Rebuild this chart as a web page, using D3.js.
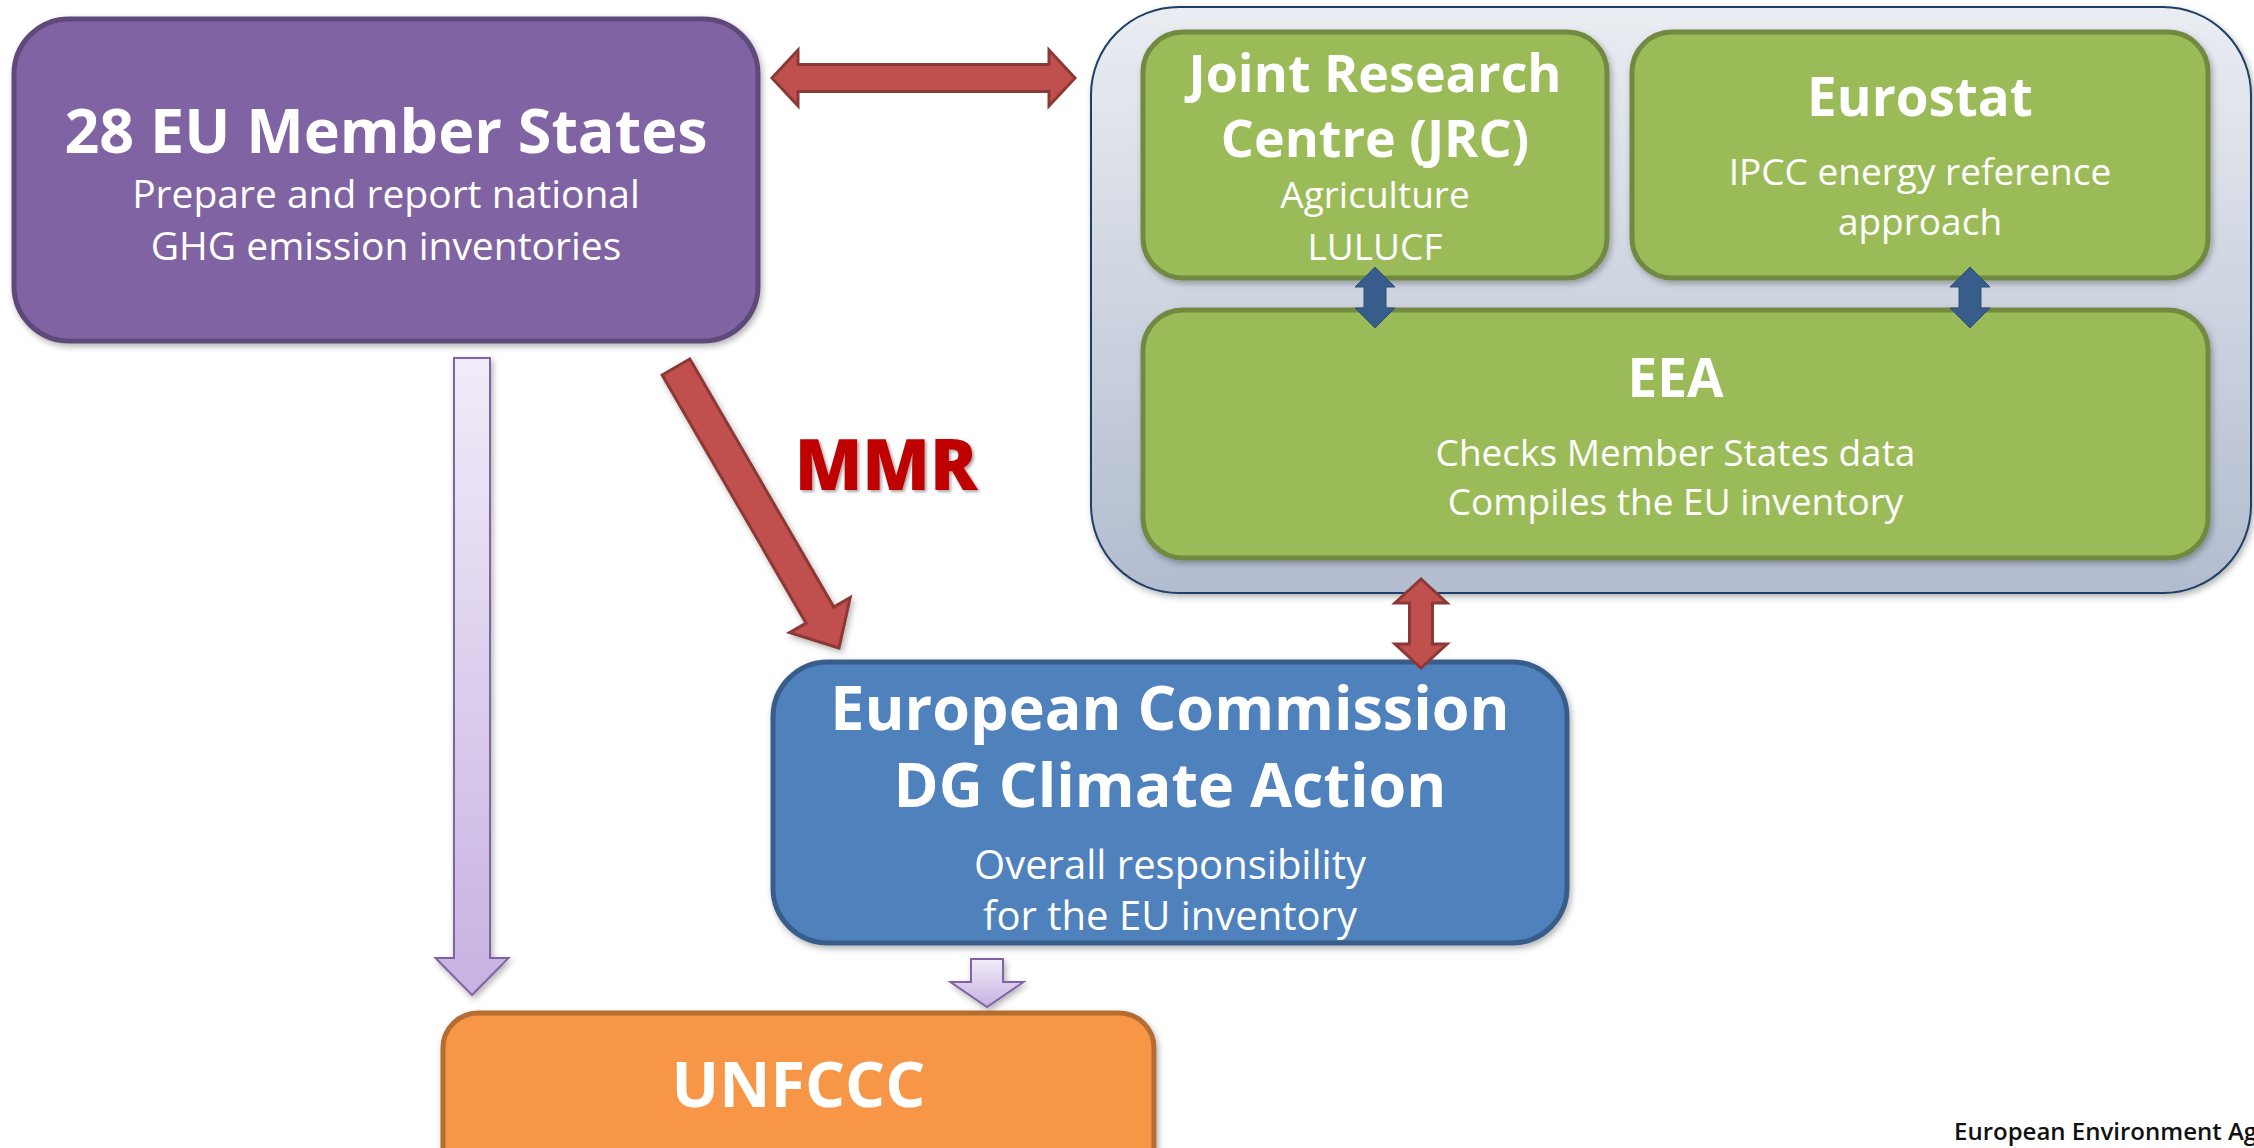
<!DOCTYPE html>
<html>
<head>
<meta charset="utf-8">
<script src="https://cdn.jsdelivr.net/npm/d3@7"></script>
<style>
  html, body { margin: 0; padding: 0; background: #fff; }
  svg { display: block; }
  text { font-family: "Open Sans", "Noto Sans", sans-serif; fill: #fff; }
</style>
</head>
<body>
<svg width="2254" height="1148"></svg>
<script>
// box names, in drawing order
var boxIds = ["states", "jrc", "eurostat", "eea", "ec", "unfccc"];

// bold title lines of each box
var boxTitles = {
  states: ["28 EU Member States"],
  jrc: ["Joint Research", "Centre (JRC)"],
  eurostat: ["Eurostat"],
  eea: ["EEA"],
  ec: ["European Commission", "DG Climate Action"],
  unfccc: ["UNFCCC"]
};

// regular lines under the title
var boxLines = {
  states: ["Prepare and report national", "GHG emission inventories"],
  jrc: ["Agriculture", "LULUCF"],
  eurostat: ["IPCC energy reference", "approach"],
  eea: ["Checks Member States data", "Compiles the EU inventory"],
  ec: ["Overall responsibility", "for the EU inventory"],
  unfccc: []
};

// links between boxes: [from, to, kind]
var links = [
  ["states", "container", "red2"],
  ["states", "ec", "mmr"],
  ["container", "ec", "red2"],
  ["jrc", "eea", "blue2"],
  ["eurostat", "eea", "blue2"],
  ["states", "unfccc", "purple"],
  ["ec", "unfccc", "purple"]
];

var linkLabel = "MMR";
var footer = "European Environment Agency";

// ---- layout (pixels) ----
var geo = {
  container: {x: 1091, y: 7, w: 1160, h: 586, r: 88},
  states:   {x: 14,   y: 19,   w: 744,  h: 322, r: 55, fill: "#8064a2", stroke: "#5f497a", ts: 61, ls: 39, tb: [153], lb: [208, 260]},
  jrc:      {x: 1143, y: 32,   w: 464,  h: 246, r: 40, fill: "#9bbb59", stroke: "#71893f", ts: 52, ls: 37, tb: [92, 157], lb: [208, 260]},
  eurostat: {x: 1632, y: 32,   w: 576,  h: 246, r: 40, fill: "#9bbb59", stroke: "#71893f", ts: 53, ls: 37, tb: [116], lb: [185, 235]},
  eea:      {x: 1143, y: 310,  w: 1065, h: 248, r: 40, fill: "#9bbb59", stroke: "#71893f", ts: 53, ls: 37, tb: [397], lb: [466, 515]},
  ec:       {x: 773,  y: 662,  w: 794,  h: 281, r: 55, fill: "#4f81bd", stroke: "#385d8a", ts: 61, ls: 40, tb: [730, 807], lb: [879, 930]},
  unfccc:   {x: 443,  y: 1013, w: 711,  h: 170, r: 35, fill: "#f79646", stroke: "#b66d31", ts: 63, ls: 40, tb: [1107], lb: []}
};

// arrow geometry per link: start, end, shaft width, head width, head length
var arrowGeo = [
  {p: [772, 78, 1075, 78],    sw: 27, hw: 56, hl: 26},
  {p: [676, 367, 839, 648],   sw: 32, hw: 70, hl: 38},
  {p: [1421, 579, 1421, 668], sw: 23, hw: 52, hl: 24},
  {p: [1375, 267, 1375, 328], sw: 22, hw: 40, hl: 20},
  {p: [1970, 267, 1970, 328], sw: 22, hw: 40, hl: 20},
  {p: [472, 358, 472, 995],   sw: 36, hw: 73, hl: 37},
  {p: [987, 959, 987, 1007],  sw: 32, hw: 73, hl: 25}
];

var arrowStyle = {
  red2:   {fill: "#c0504d", stroke: "#8c3836", sw: 3, both: true},
  mmr:    {fill: "#c0504d", stroke: "#8c3836", sw: 3, both: false},
  blue2:  {fill: "#385d8a", stroke: "#2f5079", sw: 1, both: true},
  purple: {fill: "url(#gPurple)", stroke: "#8064a2", sw: 2, both: false}
};

var svg = d3.select("svg");
var defs = svg.append("defs");

function shadow(id, dx, dy, sd, op) {
  defs.append("filter").attr("id", id)
      .attr("x", "-20%").attr("y", "-20%").attr("width", "140%").attr("height", "140%")
    .append("feDropShadow")
      .attr("dx", dx).attr("dy", dy).attr("stdDeviation", sd)
      .attr("flood-color", "#000").attr("flood-opacity", op);
}
shadow("sh", 2, 3, 3, 0.3);
shadow("shText", 2, 2, 1.5, 0.35);

var gc = defs.append("linearGradient").attr("id", "gCont").attr("x1", 0).attr("y1", 0).attr("x2", 0).attr("y2", 1);
gc.append("stop").attr("offset", "0%").attr("stop-color", "#eaedf2");
gc.append("stop").attr("offset", "100%").attr("stop-color", "#b2bccf");

var gp = defs.append("linearGradient").attr("id", "gPurple").attr("x1", 0).attr("y1", 0).attr("x2", 0).attr("y2", 1);
gp.append("stop").attr("offset", "0%").attr("stop-color", "#f1ecf8");
gp.append("stop").attr("offset", "100%").attr("stop-color", "#c7b2e2");

// grey container around JRC / Eurostat / EEA
var c = geo.container;
svg.append("rect")
    .attr("x", c.x).attr("y", c.y).attr("width", c.w).attr("height", c.h)
    .attr("rx", c.r).attr("ry", c.r)
    .attr("fill", "url(#gCont)")
    .attr("stroke", "#1f3f66").attr("stroke-width", 2)
    .attr("filter", "url(#sh)");

// arrow outline along a direction, one or two heads
function arrowPath(a) {
  var x1 = a.p[0], y1 = a.p[1], x2 = a.p[2], y2 = a.p[3];
  var len = Math.hypot(x2 - x1, y2 - y1);
  var ux = (x2 - x1) / len, uy = (y2 - y1) / len;
  var nx = -uy, ny = ux;
  var s = a.sw / 2, h = a.hw / 2, hl = a.hl;
  var pts = [];
  function pt(t, o) { pts.push([x1 + ux * t + nx * o, y1 + uy * t + ny * o]); }
  if (a.both) {
    pt(0, 0); pt(hl, h); pt(hl, s);
  } else {
    pt(0, s);
  }
  pt(len - hl, s); pt(len - hl, h); pt(len, 0); pt(len - hl, -h); pt(len - hl, -s);
  if (a.both) {
    pt(hl, -s); pt(hl, -h);
  } else {
    pt(0, -s);
  }
  return d3.line()(pts) + "Z";
}

var arrowsData = links.map(function(l, i) {
  var st = arrowStyle[l[2]];
  return Object.assign({}, arrowGeo[i], {both: st.both, style: st, kind: l[2]});
});

function drawArrows(sel) {
  svg.selectAll(null)
    .data(sel)
    .enter().append("path")
      .attr("class", "arrow")
      .attr("d", arrowPath)
      .attr("fill", function(d) { return d.style.fill; })
      .attr("stroke", function(d) { return d.style.stroke; })
      .attr("stroke-width", function(d) { return d.style.sw; })
      .attr("stroke-linejoin", "miter")
      .attr("filter", function(d) { return d.kind === "purple" || d.kind === "mmr" ? "url(#sh)" : null; });
}

// arrows that sit under the boxes
drawArrows(arrowsData.filter(function(d) { return d.kind === "purple"; }));

var box = svg.selectAll("g.box")
  .data(boxIds)
  .enter().append("g")
    .attr("class", "box");

box.append("rect")
    .attr("x", function(d) { return geo[d].x; })
    .attr("y", function(d) { return geo[d].y; })
    .attr("width", function(d) { return geo[d].w; })
    .attr("height", function(d) { return geo[d].h; })
    .attr("rx", function(d) { return geo[d].r; })
    .attr("ry", function(d) { return geo[d].r; })
    .attr("fill", function(d) { return geo[d].fill; })
    .attr("stroke", function(d) { return geo[d].stroke; })
    .attr("stroke-width", 5)
    .attr("filter", "url(#sh)");

box.each(function(id) {
  var g = d3.select(this), b = geo[id], cx = b.x + b.w / 2;
  boxTitles[id].forEach(function(t, i) {
    g.append("text")
        .attr("x", cx).attr("y", b.tb[i])
        .attr("text-anchor", "middle")
        .style("font-size", b.ts + "px")
        .style("font-weight", 700)
        .text(t);
  });
  boxLines[id].forEach(function(t, i) {
    g.append("text")
        .attr("x", cx).attr("y", b.lb[i])
        .attr("text-anchor", "middle")
        .style("font-size", b.ls + "px")
        .style("font-weight", 400)
        .text(t);
  });
});

// remaining arrows on top
drawArrows(arrowsData.filter(function(d) { return d.kind !== "purple"; }));

svg.append("text")
    .attr("x", 886).attr("y", 490)
    .attr("text-anchor", "middle")
    .style("font-size", "70px")
    .style("font-weight", 800)
    .style("fill", "#c00000")
    .attr("filter", "url(#shText)")
    .text(linkLabel);

svg.append("text")
    .attr("x", 1954).attr("y", 1140)
    .style("font-size", "24px")
    .style("font-weight", 600)
    .style("fill", "#111")
    .text(footer);
</script>
</body>
</html>
